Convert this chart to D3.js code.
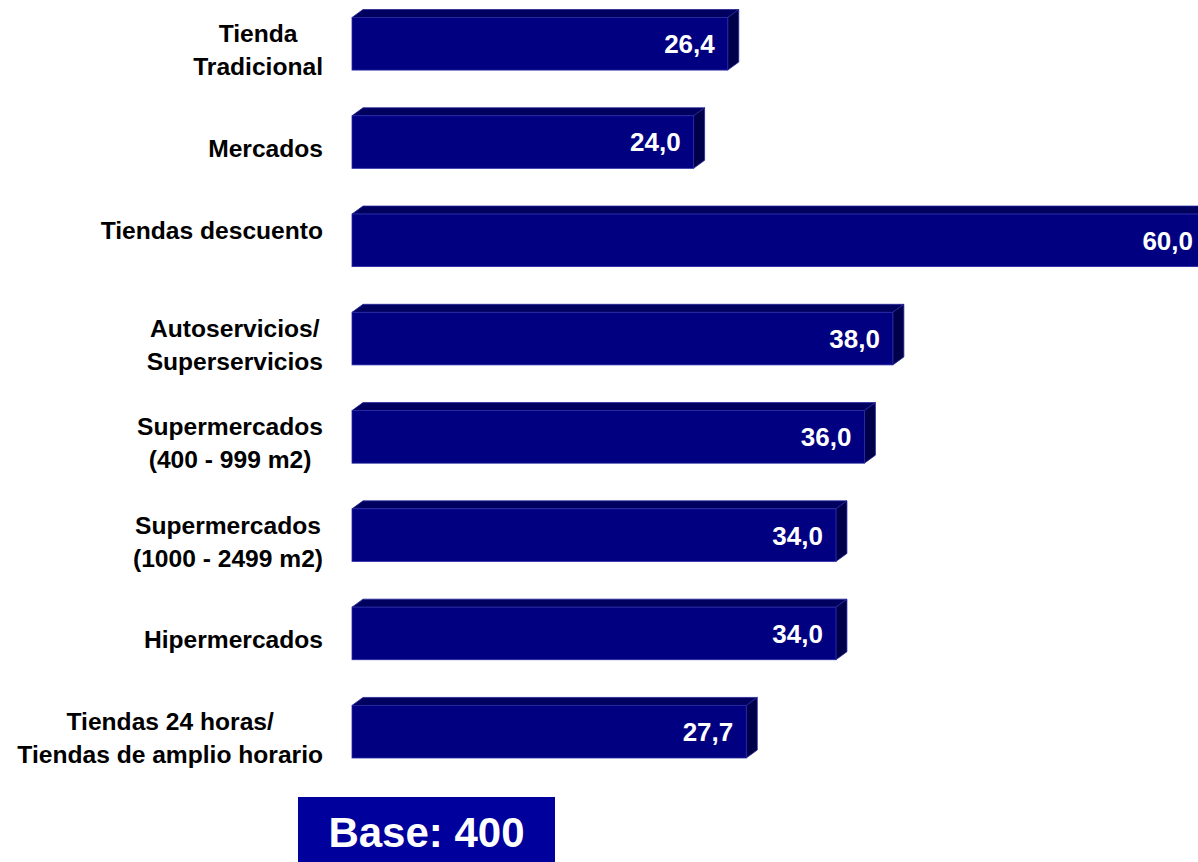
<!DOCTYPE html>
<html>
<head>
<meta charset="utf-8">
<script src="https://cdn.jsdelivr.net/npm/d3@7"></script>
<style>
  html, body { margin: 0; padding: 0; background: #ffffff; }
  svg { display: block; font-family: "Liberation Sans", Arial, sans-serif; }
</style>
</head>
<body>
<svg id="chart" width="1198" height="862"></svg>
<script>
// Store formats, each label split into its text lines
const categories = [
  "Tienda Tradicional",
  "Mercados",
  "Tiendas descuento",
  "Autoservicios/ Superservicios",
  "Supermercados (400 - 999 m2)",
  "Supermercados (1000 - 2499 m2)",
  "Hipermercados",
  "Tiendas 24 horas/ Tiendas de amplio horario"
];
const labelLines = [
  ["Tienda", "Tradicional"],
  ["Mercados"],
  ["Tiendas descuento", ""],
  ["Autoservicios/", "Superservicios"],
  ["Supermercados", "(400 - 999 m2)"],
  ["Supermercados", "(1000 - 2499 m2)"],
  ["Hipermercados"],
  ["Tiendas 24 horas/", "Tiendas de amplio horario"]
];
const values = [26.4, 24.0, 60.0, 38.0, 36.0, 34.0, 34.0, 27.7];
const baseText = "Base: 400";

const svg = d3.select("#chart");
const fmt = v => d3.format(".1f")(v).replace(".", ",");

const x = d3.scaleLinear().domain([0, 60]).range([352, 1206]);
const y = d3.scaleBand()
  .domain(categories)
  .range([17.5, 758])
  .paddingInner(0.465)
  .paddingOuter(0);

// Depth of the 3D extrusion
const dx = 11, dy = 8;

const rows = categories.map((c, i) => ({ cat: c, value: values[i], lines: labelLines[i] }));

const g = svg.selectAll("g.bar").data(rows).enter().append("g").attr("class", "bar");

// top face
g.append("path")
  .attr("d", d => {
    const x0 = x(0), x1 = x(d.value), y0 = y(d.cat);
    return `M${x0},${y0} L${x0 + dx},${y0 - dy} L${x1 + dx},${y0 - dy} L${x1},${y0} Z`;
  })
  .attr("fill", "#00005e")
  .attr("stroke", "#24249a")
  .attr("stroke-width", 0.8);

// side face
g.append("path")
  .attr("d", d => {
    const x1 = x(d.value), y0 = y(d.cat), y1 = y0 + y.bandwidth();
    return `M${x1},${y0} L${x1 + dx},${y0 - dy} L${x1 + dx},${y1 - dy} L${x1},${y1} Z`;
  })
  .attr("fill", "#00004a")
  .attr("stroke", "#24249a")
  .attr("stroke-width", 0.8);

// front face
g.append("rect")
  .attr("x", x(0))
  .attr("y", d => y(d.cat))
  .attr("width", d => x(d.value) - x(0))
  .attr("height", y.bandwidth())
  .attr("fill", "#000080")
  .attr("stroke", "#2a2aa6")
  .attr("stroke-width", 0.8);

// value labels inside the bars
g.append("text")
  .attr("x", d => x(d.value) - 13)
  .attr("y", d => y(d.cat) + y.bandwidth() / 2)
  .attr("dy", "0.36em")
  .attr("text-anchor", "end")
  .attr("fill", "#ffffff")
  .attr("font-weight", "bold")
  .attr("font-size", 26)
  .text(d => fmt(d.value));

// category labels
const lineH = 33;
const lab = svg.selectAll("text.cat").data(rows).enter().append("text")
  .attr("class", "cat")
  .attr("text-anchor", "middle")
  .attr("font-weight", "bold")
  .attr("font-size", 24.6)
  .attr("fill", "#000000");

lab.each(function (d) {
  const n = d.lines.length;
  const cy = y(d.cat) + y.bandwidth() / 2 + 6;
  const t = d3.select(this);
  d.lines.forEach((line, k) => {
    t.append("tspan")
      .attr("x", 0)
      .attr("y", cy + (k - (n - 1) / 2) * lineH)
      .attr("dy", "0.36em")
      .text(line);
  });
});

// right-align each label block on x = 323 while keeping lines centred within it
lab.each(function () {
  const bb = this.getBBox();
  const shift = 323 - (bb.x + bb.width);
  d3.select(this).attr("transform", `translate(${shift},0)`);
});

// base box
svg.append("rect")
  .attr("x", 298).attr("y", 797)
  .attr("width", 257).attr("height", 70)
  .attr("fill", "#00009c");
svg.append("text")
  .attr("x", 426.5).attr("y", 847)
  .attr("text-anchor", "middle")
  .attr("fill", "#ffffff")
  .attr("font-weight", "bold")
  .attr("font-size", 42)
  .text(baseText);
</script>
</body>
</html>
